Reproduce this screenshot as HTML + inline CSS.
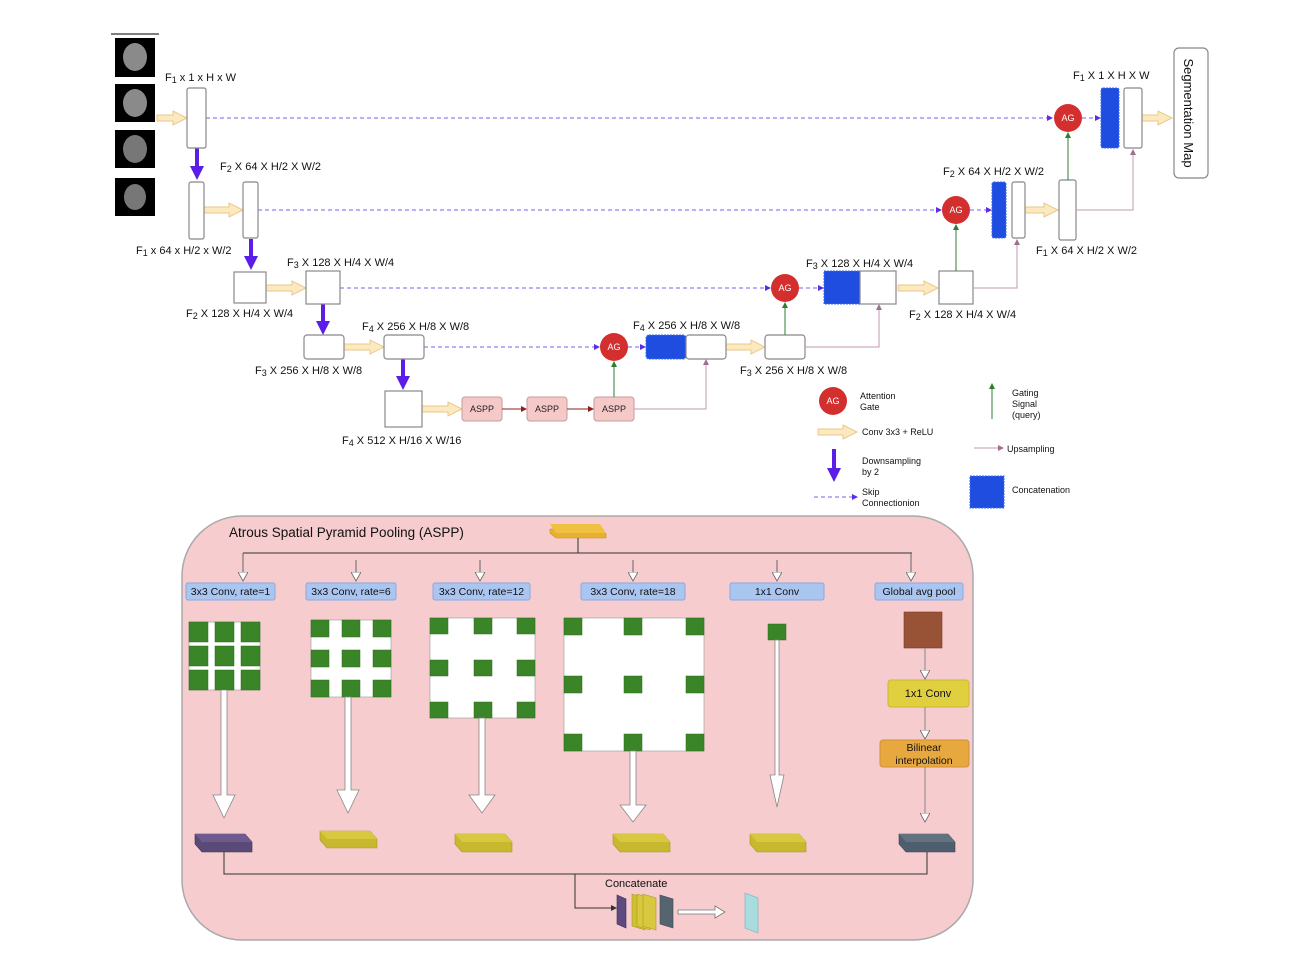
<!DOCTYPE html>
<html><head><meta charset="utf-8"><style>
html,body{margin:0;padding:0;background:#fff;}
svg{display:block;font-family:"Liberation Sans",sans-serif;}
</style></head><body>
<svg width="1294" height="976" viewBox="0 0 1294 976" xmlns="http://www.w3.org/2000/svg">
<defs>
<marker id="pb" markerWidth="6" markerHeight="6" refX="5" refY="3" orient="auto"><path d="M0,0 L6,3 L0,6z" fill="#5a2de8"/></marker>
<marker id="gr" markerWidth="6" markerHeight="6" refX="5" refY="3" orient="auto"><path d="M0,0 L6,3 L0,6z" fill="#2e7d32"/></marker>
<marker id="pk" markerWidth="6" markerHeight="6" refX="5" refY="3" orient="auto"><path d="M0,0 L6,3 L0,6z" fill="#a07090"/></marker>
<marker id="dr" markerWidth="6" markerHeight="6" refX="5" refY="3" orient="auto"><path d="M0,0 L6,3 L0,6z" fill="#8b2020"/></marker>
<marker id="bk" markerWidth="6" markerHeight="6" refX="5" refY="3" orient="auto"><path d="M0,0 L6,3 L0,6z" fill="#333"/></marker>
<marker id="wa" markerWidth="10" markerHeight="10" refX="9" refY="5" orient="auto" markerUnits="userSpaceOnUse"><path d="M0,0 L9,5 L0,10z" fill="#fff" stroke="#666" stroke-width="0.8"/></marker>
</defs>
<style>
.bx{fill:#fff;stroke:#888;stroke-width:1.2}
.ya{fill:#fde9c0;stroke:#e8c88a;stroke-width:1}
.lb{font-size:11px;fill:#111}
.sk{stroke:#7b5cf0;stroke-width:1;stroke-dasharray:4,3;fill:none}
.gl{stroke:#2e7d32;stroke-width:1;fill:none}
.pl{stroke:#c09ab0;stroke-width:1;fill:none}
.cc{fill:#1f4de0;stroke:#3b6cf0;stroke-dasharray:2,1}
.ag{fill:#d32f2f}
.agt{font-size:9px;fill:#fff;text-anchor:middle}
.sm{font-size:9px;fill:#111}
.gs{fill:#3a8527;stroke:#2e6b1f;stroke-width:0.5}
</style>
<!-- brains -->
<line x1="111" y1="34" x2="159" y2="34" stroke="#555" stroke-width="1.5"/>
<rect x="115" y="38" width="40" height="39" fill="#000"/><ellipse cx="135" cy="57" rx="12" ry="14" fill="#8a8a8a"/>
<rect x="115" y="84" width="40" height="38" fill="#000"/><ellipse cx="135" cy="103" rx="12" ry="14" fill="#8a8a8a"/>
<rect x="115" y="130" width="40" height="38" fill="#000"/><ellipse cx="135" cy="149" rx="12" ry="14" fill="#777"/>
<rect x="115" y="178" width="40" height="38" fill="#000"/><ellipse cx="135" cy="197" rx="11" ry="13" fill="#777"/>

<!-- skip lines -->
<line x1="206" y1="118" x2="1052" y2="118" class="sk" marker-end="url(#pb)"/>
<line x1="1082" y1="118" x2="1100" y2="118" class="sk" marker-end="url(#pb)"/>
<line x1="258" y1="210" x2="941" y2="210" class="sk" marker-end="url(#pb)"/>
<line x1="970" y1="210" x2="991" y2="210" class="sk" marker-end="url(#pb)"/>
<line x1="340" y1="288" x2="770" y2="288" class="sk" marker-end="url(#pb)"/>
<line x1="799" y1="288" x2="823" y2="288" class="sk" marker-end="url(#pb)"/>
<line x1="424" y1="347" x2="599" y2="347" class="sk" marker-end="url(#pb)"/>
<line x1="628" y1="347" x2="645" y2="347" class="sk" marker-end="url(#pb)"/>

<!-- yellow arrows -->
<g class="ya">
<polygon points="157,115 173,115 173,111 187,118 173,125 173,121 157,121"/>
<polygon points="204,207 229,207 229,203 243,210 229,217 229,213 204,213"/>
<polygon points="266,285 292,285 292,281 306,288 292,295 292,291 266,291"/>
<polygon points="344,344 370,344 370,340 384,347 370,354 370,350 344,350"/>
<polygon points="422,406 448,406 448,402 462,409 448,416 448,412 422,412"/>
<polygon points="726,344 751,344 751,340 765,347 751,354 751,350 726,350"/>
<polygon points="898,285 924,285 924,281 938,288 924,295 924,291 898,291"/>
<polygon points="1025,207 1044,207 1044,203 1058,210 1044,217 1044,213 1025,213"/>
<polygon points="1142,115 1158,115 1158,111 1172,118 1158,125 1158,121 1142,121"/>
</g>

<!-- purple down arrows -->
<g fill="#5a1ee8">
<polygon points="195,148 199,148 199,166 204,166 197,180 190,166 195,166"/>
<polygon points="249,239 253,239 253,256 258,256 251,270 244,256 249,256"/>
<polygon points="321,304 325,304 325,321 330,321 323,335 316,321 321,321"/>
<polygon points="401,359 405,359 405,376 410,376 403,390 396,376 401,376"/>
<polygon points="832,449 836,449 836,468 841,468 834,482 827,468 832,468"/>
</g>

<!-- encoder boxes -->
<rect x="187" y="88" width="19" height="60" rx="2" class="bx"/>
<rect x="189" y="182" width="15" height="57" rx="2" class="bx"/>
<rect x="243" y="182" width="15" height="56" rx="2" class="bx"/>
<rect x="234" y="272" width="32" height="31" class="bx"/>
<rect x="306" y="271" width="34" height="33" class="bx"/>
<rect x="304" y="335" width="40" height="24" rx="3" class="bx"/>
<rect x="384" y="335" width="40" height="24" rx="3" class="bx"/>
<rect x="385" y="391" width="37" height="36" class="bx"/>

<!-- ASPP blocks -->
<g fill="#f6c9c9" stroke="#c89a9a">
<rect x="462" y="397" width="40" height="24" rx="3"/>
<rect x="527" y="397" width="40" height="24" rx="3"/>
<rect x="594" y="397" width="40" height="24" rx="3"/>
</g>
<g font-size="9" text-anchor="middle" fill="#222">
<text x="482" y="412">ASPP</text><text x="547" y="412">ASPP</text><text x="614" y="412">ASPP</text>
</g>
<line x1="502" y1="409" x2="526" y2="409" stroke="#8b2020" marker-end="url(#dr)"/>
<line x1="567" y1="409" x2="593" y2="409" stroke="#8b2020" marker-end="url(#dr)"/>

<!-- decoder -->
<line x1="614" y1="397" x2="614" y2="362" class="gl" marker-end="url(#gr)"/>
<polyline points="634,409 706,409 706,360" class="pl" marker-end="url(#pk)"/>
<rect x="646" y="335" width="40" height="24" rx="3" class="cc"/>
<rect x="686" y="335" width="40" height="24" rx="3" class="bx"/>
<rect x="765" y="335" width="40" height="24" rx="3" class="bx"/>
<line x1="785" y1="335" x2="785" y2="303" class="gl" marker-end="url(#gr)"/>
<polyline points="805,347 879,347 879,305" class="pl" marker-end="url(#pk)"/>
<rect x="824" y="271" width="36" height="33" class="cc"/>
<rect x="860" y="271" width="36" height="33" class="bx"/>
<rect x="939" y="271" width="34" height="33" class="bx"/>
<line x1="956" y1="271" x2="956" y2="225" class="gl" marker-end="url(#gr)"/>
<polyline points="973,288 1017,288 1017,240" class="pl" marker-end="url(#pk)"/>
<rect x="992" y="182" width="14" height="56" rx="2" class="cc"/>
<rect x="1012" y="182" width="13" height="56" rx="2" class="bx"/>
<rect x="1059" y="180" width="17" height="60" rx="2" class="bx"/>
<line x1="1068" y1="180" x2="1068" y2="133" class="gl" marker-end="url(#gr)"/>
<polyline points="1076,210 1133,210 1133,150" class="pl" marker-end="url(#pk)"/>
<rect x="1101" y="88" width="18" height="60" rx="2" class="cc"/>
<rect x="1124" y="88" width="18" height="60" rx="2" class="bx"/>
<rect x="1174" y="48" width="34" height="130" rx="5" class="bx"/>
<text transform="translate(1184,113) rotate(90)" font-size="13" text-anchor="middle" fill="#111">Segmentation Map</text>

<circle cx="614" cy="347" r="14" class="ag"/><text x="614" y="350" class="agt">AG</text>
<circle cx="785" cy="288" r="14" class="ag"/><text x="785" y="291" class="agt">AG</text>
<circle cx="956" cy="210" r="14" class="ag"/><text x="956" y="213" class="agt">AG</text>
<circle cx="1068" cy="118" r="14" class="ag"/><text x="1068" y="121" class="agt">AG</text>

<!-- labels -->
<g class="lb">
<text x="165" y="81">F<tspan font-size="9" dy="2">1</tspan><tspan dy="-2"> x 1 x H x W</tspan></text>
<text x="220" y="170">F<tspan font-size="9" dy="2">2</tspan><tspan dy="-2"> X 64 X H/2 X W/2</tspan></text>
<text x="136" y="254">F<tspan font-size="9" dy="2">1</tspan><tspan dy="-2"> x 64 x  H/2 x W/2</tspan></text>
<text x="287" y="266">F<tspan font-size="9" dy="2">3</tspan><tspan dy="-2"> X 128 X H/4 X W/4</tspan></text>
<text x="186" y="317">F<tspan font-size="9" dy="2">2</tspan><tspan dy="-2"> X 128 X H/4 X W/4</tspan></text>
<text x="362" y="330">F<tspan font-size="9" dy="2">4</tspan><tspan dy="-2"> X 256 X H/8 X W/8</tspan></text>
<text x="255" y="374">F<tspan font-size="9" dy="2">3</tspan><tspan dy="-2"> X 256 X H/8 X W/8</tspan></text>
<text x="342" y="444">F<tspan font-size="9" dy="2">4</tspan><tspan dy="-2"> X 512 X H/16 X W/16</tspan></text>
<text x="633" y="329">F<tspan font-size="9" dy="2">4</tspan><tspan dy="-2"> X 256 X H/8 X W/8</tspan></text>
<text x="740" y="374">F<tspan font-size="9" dy="2">3</tspan><tspan dy="-2"> X 256 X H/8 X W/8</tspan></text>
<text x="806" y="267">F<tspan font-size="9" dy="2">3</tspan><tspan dy="-2"> X 128 X H/4 X W/4</tspan></text>
<text x="909" y="318">F<tspan font-size="9" dy="2">2</tspan><tspan dy="-2"> X 128 X H/4 X W/4</tspan></text>
<text x="943" y="175">F<tspan font-size="9" dy="2">2</tspan><tspan dy="-2"> X 64 X H/2 X W/2</tspan></text>
<text x="1036" y="254">F<tspan font-size="9" dy="2">1</tspan><tspan dy="-2"> X 64 X H/2 X W/2</tspan></text>
<text x="1073" y="79">F<tspan font-size="9" dy="2">1</tspan><tspan dy="-2"> X 1 X H X W</tspan></text>
</g>

<!-- legend -->
<circle cx="833" cy="401" r="14" class="ag"/><text x="833" y="404" class="agt">AG</text>
<text x="860" y="399" class="sm">Attention</text><text x="860" y="410" class="sm">Gate</text>
<polygon points="818,429 843,429 843,425 857,432 843,439 843,435 818,435" class="ya"/>
<text x="862" y="435" class="sm">Conv 3x3 + ReLU</text>
<text x="862" y="464" class="sm">Downsampling</text><text x="862" y="475" class="sm">by 2</text>
<line x1="814" y1="497" x2="857" y2="497" class="sk" marker-end="url(#pb)"/>
<text x="862" y="495" class="sm">Skip</text><text x="862" y="506" class="sm">Connectionion</text>
<line x1="992" y1="419" x2="992" y2="384" class="gl" marker-end="url(#gr)"/>
<text x="1012" y="396" class="sm">Gating</text><text x="1012" y="407" class="sm">Signal</text><text x="1012" y="418" class="sm">(query)</text>
<line x1="974" y1="448" x2="1003" y2="448" class="pl" marker-end="url(#pk)"/>
<text x="1007" y="452" class="sm">Upsampling</text>
<rect x="970" y="476" width="34" height="32" class="cc"/>
<text x="1012" y="493" class="sm">Concatenation</text>

<!-- ASPP panel -->
<rect x="182" y="516" width="791" height="424" rx="60" fill="#f6cccf" stroke="#aaa" stroke-width="1.5"/>
<text x="229" y="537" font-size="13.5" fill="#111">Atrous Spatial Pyramid Pooling (ASPP)</text>
<polygon points="550,529 600,529 606,534 606,538 556,538 550,533" fill="#e8b030" stroke="#c89020" stroke-width="0.6"/>
<polygon points="550,524 600,524 606,533 556,533" fill="#f0c040"/>
<g stroke="#333" stroke-width="1" fill="none">
<line x1="578" y1="538" x2="578" y2="553"/>
<line x1="243" y1="553" x2="912" y2="553"/>
</g>
<g stroke="#666" stroke-width="1">
<line x1="243" y1="553" x2="243" y2="581" marker-end="url(#wa)"/>
<line x1="356" y1="560" x2="356" y2="581" marker-end="url(#wa)"/>
<line x1="480" y1="560" x2="480" y2="581" marker-end="url(#wa)"/>
<line x1="633" y1="560" x2="633" y2="581" marker-end="url(#wa)"/>
<line x1="777" y1="560" x2="777" y2="581" marker-end="url(#wa)"/>
<line x1="911" y1="553" x2="911" y2="581" marker-end="url(#wa)"/>
</g>
<g fill="#aac6f0" stroke="#8aa8dc">
<rect x="186" y="583" width="89" height="17" rx="2"/>
<rect x="306" y="583" width="90" height="17" rx="2"/>
<rect x="433" y="583" width="97" height="17" rx="2"/>
<rect x="581" y="583" width="104" height="17" rx="2"/>
<rect x="730" y="583" width="94" height="17" rx="2"/>
<rect x="875" y="583" width="88" height="17" rx="2"/>
</g>
<g font-size="10.5" fill="#111" text-anchor="middle">
<text x="230.5" y="595">3x3 Conv, rate=1</text>
<text x="351" y="595">3x3 Conv, rate=6</text>
<text x="481.5" y="595">3x3 Conv, rate=12</text>
<text x="633" y="595">3x3 Conv, rate=18</text>
<text x="777" y="595">1x1 Conv</text>
<text x="919" y="595">Global avg pool</text>
</g>

<!-- grids -->
<rect x="189" y="622" width="71" height="68" fill="#fff" stroke="#999" stroke-width="0.6"/>
<g class="gs">
<rect x="189" y="622" width="19" height="20"/><rect x="215" y="622" width="19" height="20"/><rect x="241" y="622" width="19" height="20"/>
<rect x="189" y="646" width="19" height="20"/><rect x="215" y="646" width="19" height="20"/><rect x="241" y="646" width="19" height="20"/>
<rect x="189" y="670" width="19" height="20"/><rect x="215" y="670" width="19" height="20"/><rect x="241" y="670" width="19" height="20"/>
</g>
<rect x="311" y="620" width="80" height="77" fill="#fff" stroke="#999" stroke-width="0.6"/>
<g class="gs">
<rect x="311" y="620" width="18" height="17"/><rect x="342" y="620" width="18" height="17"/><rect x="373" y="620" width="18" height="17"/>
<rect x="311" y="650" width="18" height="17"/><rect x="342" y="650" width="18" height="17"/><rect x="373" y="650" width="18" height="17"/>
<rect x="311" y="680" width="18" height="17"/><rect x="342" y="680" width="18" height="17"/><rect x="373" y="680" width="18" height="17"/>
</g>
<rect x="430" y="618" width="105" height="100" fill="#fff" stroke="#999" stroke-width="0.6"/>
<g class="gs">
<rect x="430" y="618" width="18" height="16"/><rect x="474" y="618" width="18" height="16"/><rect x="517" y="618" width="18" height="16"/>
<rect x="430" y="660" width="18" height="16"/><rect x="474" y="660" width="18" height="16"/><rect x="517" y="660" width="18" height="16"/>
<rect x="430" y="702" width="18" height="16"/><rect x="474" y="702" width="18" height="16"/><rect x="517" y="702" width="18" height="16"/>
</g>
<rect x="564" y="618" width="140" height="133" fill="#fff" stroke="#999" stroke-width="0.6"/>
<g class="gs">
<rect x="564" y="618" width="18" height="17"/><rect x="624" y="618" width="18" height="17"/><rect x="686" y="618" width="18" height="17"/>
<rect x="564" y="676" width="18" height="17"/><rect x="624" y="676" width="18" height="17"/><rect x="686" y="676" width="18" height="17"/>
<rect x="564" y="734" width="18" height="17"/><rect x="624" y="734" width="18" height="17"/><rect x="686" y="734" width="18" height="17"/>
</g>
<rect x="768" y="624" width="18" height="16" class="gs"/>
<rect x="904" y="612" width="38" height="36" fill="#985236" stroke="#7a3d25" stroke-width="0.6"/>
<rect x="888" y="680" width="81" height="27" rx="3" fill="#e0d040" stroke="#c8b830"/>
<text x="928" y="697" font-size="11" text-anchor="middle" fill="#111">1x1 Conv</text>
<rect x="880" y="740" width="89" height="27" rx="3" fill="#e8a840" stroke="#d09030"/>
<text x="924" y="751" font-size="10.5" text-anchor="middle" fill="#111">Bilinear</text>
<text x="924" y="764" font-size="10.5" text-anchor="middle" fill="#111">interpolation</text>

<!-- big white arrows -->
<g fill="#fff" stroke="#888" stroke-width="0.8">
<polygon points="221,690 227,690 227,795 235,795 224,818 213,795 221,795"/>
<polygon points="345,697 351,697 351,790 359,790 348,813 337,790 345,790"/>
<polygon points="479,718 485,718 485,795 495,795 482,813 469,795 479,795"/>
<polygon points="630,751 636,751 636,805 646,805 633,822 620,805 630,805"/>
<polygon points="775,640 779,640 779,775 784,775 777,807 770,775 775,775"/>
</g>
<g stroke="#888" stroke-width="1">
<line x1="925" y1="648" x2="925" y2="679" marker-end="url(#wa)"/>
<line x1="925" y1="707" x2="925" y2="739" marker-end="url(#wa)"/>
<line x1="925" y1="767" x2="925" y2="822" marker-end="url(#wa)"/>
</g>

<!-- slabs -->
<g stroke-width="0.6">
<polygon points="195,834 245,834 252,842 252,852 202,852 195,844" fill="#5a4a78" stroke="#3e3258"/>
<polygon points="195,834 245,834 252,842 202,842" fill="#6e5a8e"/>
<polygon points="320,831 370,831 377,839 377,848 327,848 320,840" fill="#c8b830" stroke="#a89a20"/>
<polygon points="320,831 370,831 377,839 327,839" fill="#d8c840"/>
<polygon points="455,834 505,834 512,842 512,852 462,852 455,844" fill="#c8b830" stroke="#a89a20"/>
<polygon points="455,834 505,834 512,842 462,842" fill="#d8c840"/>
<polygon points="613,834 663,834 670,842 670,852 620,852 613,844" fill="#c8b830" stroke="#a89a20"/>
<polygon points="613,834 663,834 670,842 620,842" fill="#d8c840"/>
<polygon points="750,834 799,834 806,842 806,852 757,852 750,844" fill="#c8b830" stroke="#a89a20"/>
<polygon points="750,834 799,834 806,842 757,842" fill="#d8c840"/>
<polygon points="899,834 948,834 955,842 955,852 906,852 899,844" fill="#4e5e6e" stroke="#3a4855"/>
<polygon points="899,834 948,834 955,842 906,842" fill="#62727e"/>
</g>
<g stroke="#333" stroke-width="1" fill="none">
<polyline points="224,852 224,874 927,874 927,852"/>
<polyline points="575,874 575,908 616,908" marker-end="url(#bk)"/>
</g>
<text x="605" y="887" font-size="11" fill="#111">Concatenate</text>
<polygon points="617,895 626,899 626,928 617,924" fill="#5e4a80" stroke="#3e3258" stroke-width="0.6"/>
<polygon points="632,894 645,898 645,930 632,926" fill="#d0c030" stroke="#a89a20" stroke-width="0.6"/>
<polygon points="637,894 650,898 650,930 637,926" fill="#d8c840" stroke="#a89a20" stroke-width="0.6"/>
<polygon points="643,894 656,898 656,930 643,926" fill="#d8c840" stroke="#a89a20" stroke-width="0.6"/>
<polygon points="660,895 673,899 673,928 660,924" fill="#56646f" stroke="#3a4855" stroke-width="0.6"/>
<polygon points="678,910 715,910 715,906 725,912 715,918 715,914 678,914" fill="#fff" stroke="#777" stroke-width="0.8"/>
<polygon points="745,893 758,898 758,933 745,928" fill="#a8dde0" stroke="#70b0b8" stroke-width="0.6"/>
</svg>
</body></html>
